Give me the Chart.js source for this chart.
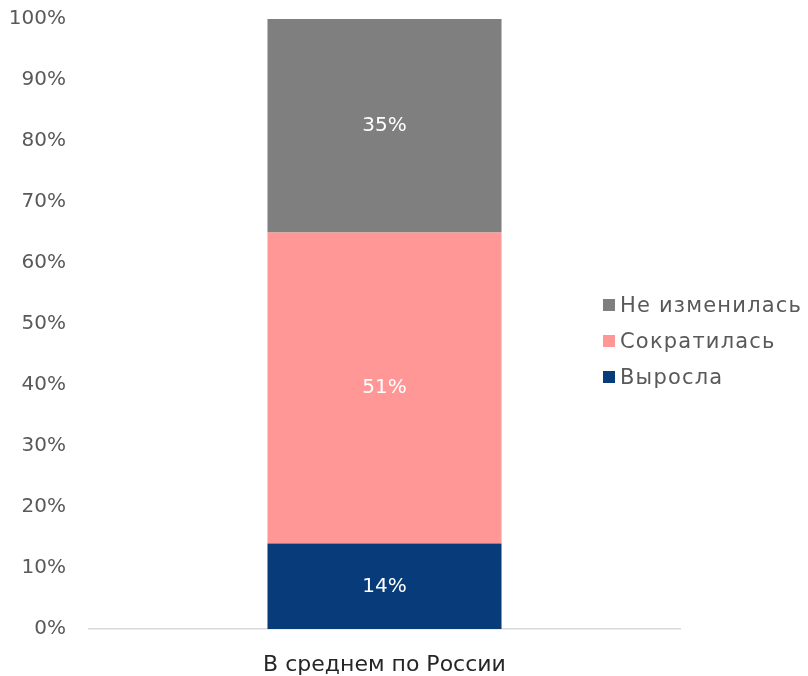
<!DOCTYPE html>
<html>
<head>
<meta charset="utf-8">
<script src="https://cdn.jsdelivr.net/npm/chart.js@4"></script>
<style>
  html, body { margin: 0; padding: 0; background: #fff; }
  .wrap { position: relative; width: 808px; height: 676px; }
  #legend { position: absolute; left: 603px; top: 290px; font-family: "DejaVu Sans", sans-serif; font-size: 21px; letter-spacing: 1.2px; color: #595959; }
  #legend div { height: 36px; line-height: 30px; white-space: nowrap; }
  #legend i { display: inline-block; width: 12px; height: 12px; margin-right: 5px; vertical-align: 1px; }
</style>
</head>
<body>
<div class="wrap">
  <canvas id="c" width="808" height="676"></canvas>
  <div id="legend"></div>
</div>
<script>
const categories = ['В среднем по России'];
const grew = [14];
const shrank = [51];
const same = [35];
const yTicks = [0, 10, 20, 30, 40, 50, 60, 70, 80, 90, 100];

const FONT = '"DejaVu Sans", sans-serif';

// white value labels in the middle of each segment
const valueLabels = {
  id: 'valueLabels',
  afterDatasetsDraw(chart) {
    const ctx = chart.ctx;
    ctx.save();
    ctx.fillStyle = '#fff';
    ctx.font = `20px ${FONT}`;
    ctx.textAlign = 'center';
    ctx.textBaseline = 'middle';
    chart.data.datasets.forEach((ds, i) => {
      chart.getDatasetMeta(i).data.forEach((bar, j) => {
        const y = (bar.y + bar.base) / 2;
        ctx.fillText(ds.data[j] + '%', bar.x, y);
      });
    });
    ctx.restore();
  }
};

const chart = new Chart(document.getElementById('c'), {
  type: 'bar',
  data: {
    labels: categories,
    datasets: [
      { label: 'Выросла', data: grew, backgroundColor: '#073b7a' },
      { label: 'Сократилась', data: shrank, backgroundColor: '#ff9797' },
      { label: 'Не изменилась', data: same, backgroundColor: '#7f7f7f' }
    ]
  },
  options: {
    responsive: false,
    animation: false,
    layout: { padding: { top: 19, right: 128, left: 0, bottom: 0 } },
    plugins: {
      legend: { display: false },
      tooltip: { enabled: false }
    },
    datasets: { bar: { categoryPercentage: 1, barPercentage: 0.396, borderWidth: 0 } },
    scales: {
      x: {
        stacked: true,
        grid: { display: false, drawTicks: false },
        border: { display: true, color: '#d9d9d9', width: 1.5 },
        ticks: { color: '#262626', font: { family: FONT, size: 22 }, padding: 23 },
        afterFit(s) { s.height = 47; s.paddingLeft = 0; s.paddingRight = 0; }
      },
      y: {
        stacked: true,
        min: 0,
        max: 100,
        afterBuildTicks(s) { s.ticks = yTicks.map(v => ({ value: v })); },
        grid: { display: false, drawTicks: false },
        border: { display: false },
        ticks: { color: '#595959', font: { family: FONT, size: 20 }, padding: 23, callback: v => v + '%' },
        afterFit(s) { s.width = 89; s.paddingTop = 0; s.paddingBottom = 0; }
      }
    }
  },
  plugins: [valueLabels]
});

// legend in reverse order, like the original
const legend = document.getElementById('legend');
chart.data.datasets.slice().reverse().forEach(ds => {
  const row = document.createElement('div');
  row.innerHTML = `<i style="background:${ds.backgroundColor}"></i>${ds.label}`;
  legend.appendChild(row);
});
</script>
</body>
</html>
